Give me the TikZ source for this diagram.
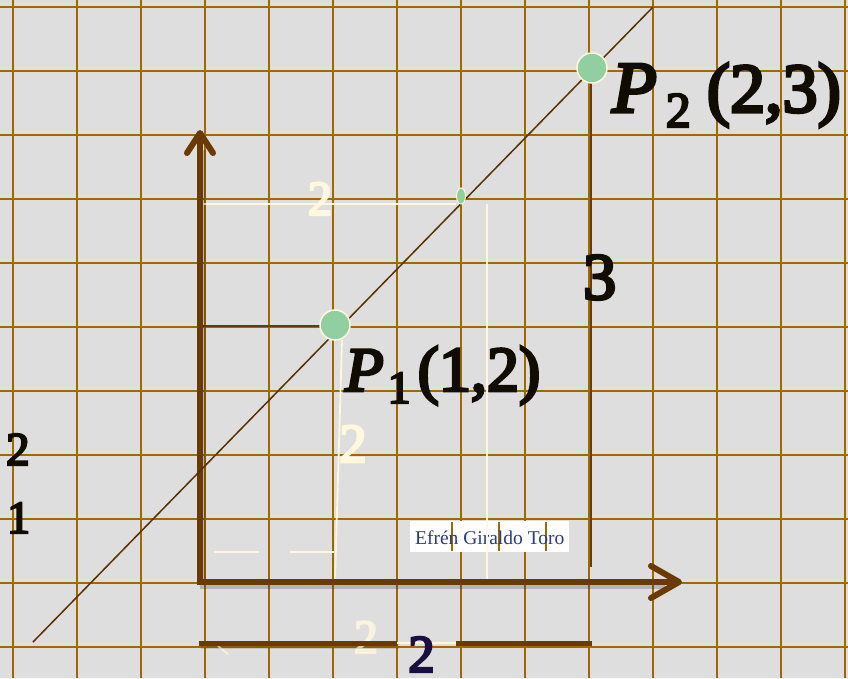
\documentclass[tikz,border=0pt]{standalone}
\usepackage{fontspec}
\setmainfont{Liberation Serif}
\newfontfamily\hb{Liberation Serif}[FakeBold=4.5]
\usetikzlibrary{arrows.meta,calc,shapes.geometric}
\definecolor{bgc}{HTML}{DEDEDE}
\definecolor{gridc}{HTML}{9E6A00}
\definecolor{axisc}{HTML}{6B3A00}
\definecolor{linec}{HTML}{5A3000}
\definecolor{greenc}{HTML}{90CFA0}
\definecolor{creamc}{HTML}{FFF8DC}
\definecolor{inkc}{HTML}{100C00}
\definecolor{navyc}{HTML}{1A1040}
\definecolor{markc}{HTML}{2A3A8A}
\newcommand{\fs}[1]{\fontsize{#1}{#1}\selectfont}
\tikzset{
  gridline/.style={draw=gridc, line width=2pt},
  axisline/.style={draw=axisc, line width=6pt, line join=miter},
  shadowline/.style={draw=black, opacity=0.18, line width=6pt},
  creamline/.style={draw=creamc, line width=1.8pt},
  brownline/.style={draw=axisc, line width=2.5pt},
  ptdot/.style={circle, fill=greenc, draw=creamc, line width=1.5pt, minimum size=30pt, inner sep=0pt},
  lbl/.style={inner sep=0pt, anchor=base west, text=inkc},
  creamlbl/.style={inner sep=0pt, anchor=base, text=creamc},
}
\begin{document}
\begin{tikzpicture}[x=1pt, y=-1pt]
\useasboundingbox (0,0) rectangle (848,678);
\fill[bgc] (0,0) rectangle (848,678);
% grid
\foreach \gx in {13,77,...,845} \draw[gridline] (\gx,0) -- (\gx,678);
\foreach \gy in {7,71,...,647} \draw[gridline] (0,\gy) -- (848,\gy);

% coordinates
\coordinate (O) at (200,582);
\coordinate (Ytip) at (200,130);
\coordinate (Xtip) at (682,582);
\coordinate (Lstart) at (33,642);
\coordinate (Lend) at (653,7);

% watermark box
\node[fill=white, minimum width=159pt, minimum height=31pt, inner sep=0pt, anchor=north west] (wm) at (410,521) {};
\foreach \wx in {452,499,546} \draw[draw=gridc, line width=1.2pt] (\wx,522) -- (\wx,551);
\node[inner sep=0pt, text=markc, font=\fs{19.5}] (wmtext) at ($(wm.center)+(0,1)$) {Efrén Giraldo Toro};

% cream guide lines
\coordinate (Ch1) at (200,204);
\coordinate (Ch2) at (456,204);
\draw[creamline] (Ch1) -- (Ch2);
\coordinate (Cv1) at (487,204);
\coordinate (Cv2) at (487,581);
\draw[creamline] (Cv1) -- (Cv2);
\coordinate (Cp1) at (342,340);
\coordinate (Cp2) at (335,580);
\draw[creamline] (Cp1) -- (Cp2);
\coordinate (D1a) at (214,552); \coordinate (D1b) at (259,552);
\coordinate (D2a) at (290,552); \coordinate (D2b) at (334,552);
\draw[creamline] (D1a) -- (D1b);
\draw[creamline] (D2a) -- (D2b);
\coordinate (T1) at (218,646); \coordinate (T2) at (228,654);
\draw[creamline, opacity=0.8] (T1) -- (T2);

% cream labels
\node[creamlbl, font=\hb\fs{49}] (c2a) at (320,215) {2};
\node[creamlbl, font=\hb\fs{55}] (c2b) at (353,462) {2};
\node[creamlbl, font=\hb\fs{48}, opacity=0.75] (c2c) at (366,653) {2};

% bottom brown segments
\coordinate (B1) at (199,643); \coordinate (B2) at (397,643);
\coordinate (B3) at (456,643); \coordinate (B4) at (592,643);
\draw[shadowline, line width=5pt, opacity=0.12] ($(B1)+(2,3)$) -- ($(B2)+(2,3)$);
\draw[draw=axisc, line width=5pt] (B1) -- (B2);
\draw[draw=axisc, line width=5pt] (B3) -- (B4);
\draw[creamline] (B2) -- (B3);

% brown helper lines
\coordinate (H1) at (200,326);
\coordinate (H2) at (322,326);
\draw[brownline] (H1) -- (H2);
\coordinate (V1) at (591,68);
\coordinate (V2) at (591,567);
\draw[draw=axisc, line width=2pt] (V1) -- (V2);

% axes
\draw[shadowline] (203,150) -- (203,586) -- (665,586);
\draw[axisline, {Straight Barb[length=20pt,width=26pt,line cap=round,line join=round]}-{Straight Barb[length=28pt,width=32pt,line cap=round,line join=round]}] (Ytip) -- (O) -- (Xtip);

% diagonal line
\draw[draw=linec, line width=1.5pt] (Lstart) -- (Lend);

% points
\node[ptdot] (P1) at (335,325) {};
\node[ptdot] (P2) at (592,68) {};
\node[ellipse, fill=greenc, draw=creamc, line width=1pt, minimum width=9pt, minimum height=16pt, inner sep=0pt] (Pm) at (461,196) {};

% labels
\node[lbl] (P1lbl) at (345,391) {\hb{\fs{63}\itshape P}\hspace{4pt}\raisebox{-12pt}{\fs{46}1}\hspace{7pt}{\fs{64}(1,2)}};
\node[lbl] (P2lbl) at (612,112) {\hb{\fs{73}\itshape P}\hspace{9pt}\raisebox{-15pt}{\fs{50}2}\hspace{16pt}{\fs{70}(2,3)}};
\node[lbl, font=\hb\fs{66}] (n3) at (583,299) {3};
\node[lbl, font=\hb\fs{47}] (n2) at (6,465) {2};
\node[lbl, font=\hb\fs{46}] (n1) at (7,533) {1};
\node[lbl, text=navyc, font=\hb\fs{53}] (n2b) at (408,672) {2};
\end{tikzpicture}
\end{document}
